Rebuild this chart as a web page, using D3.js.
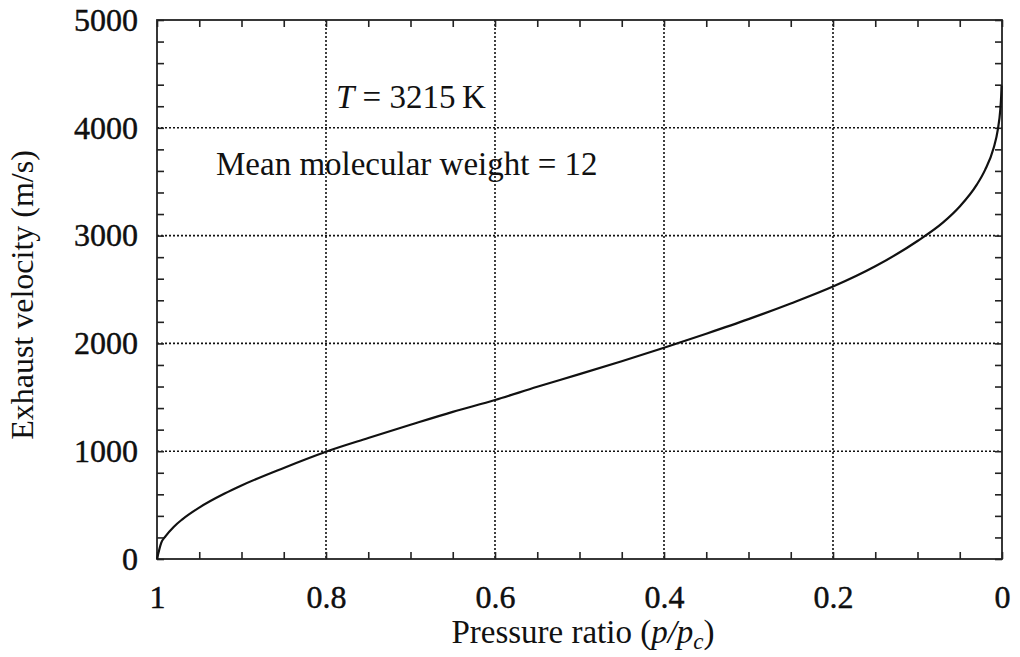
<!DOCTYPE html>
<html lang="en">
<head>
<meta charset="utf-8">
<title>Exhaust velocity vs pressure ratio</title>
<script src="https://cdn.jsdelivr.net/npm/d3@7"></script>
<style>
  body { margin: 0; background: #fff; }
  text { font-family: "Liberation Serif", "DejaVu Serif", serif; fill: #111; }
</style>
</head>
<body>
<script>
var w = 1020;
var h = 657;

// values
var pressureRatio = [1, 0.995, 0.99, 0.98, 0.97, 0.95, 0.92, 0.9, 0.85, 0.8,
                     0.75, 0.7, 0.65, 0.6, 0.55, 0.5, 0.45, 0.4, 0.35, 0.3,
                     0.25, 0.2, 0.15, 0.1, 0.07, 0.05, 0.03, 0.02, 0.01,
                     0.005, 0.002, 0.001, 0.0005];
var velocity = [0, 150, 210, 300, 368, 477, 607, 682, 845, 995,
                1122, 1245, 1365, 1475, 1598, 1715, 1835, 1960, 2090, 2225,
                2370, 2527, 2715, 2950, 3120, 3270, 3470, 3610, 3810,
                3980, 4170, 4290, 4390];

var xTicks = [1, 0.8, 0.6, 0.4, 0.2, 0];
var xTickLabels = ["1", "0.8", "0.6", "0.4", "0.2", "0"];
var yTicks = [0, 1000, 2000, 3000, 4000, 5000];
var yTickLabels = ["0", "1000", "2000", "3000", "4000", "5000"];

var plotL = 157, plotR = 1002, plotT = 20, plotB = 559;

var svg = d3.select("body")
    .append("svg")
    .attr("width", w)
    .attr("height", h);

var x = d3.scaleLinear().domain([1, 0]).range([plotL, plotR]);
var y = d3.scaleLinear().domain([0, 5000]).range([plotB, plotT]);

// dotted grid at the inner major ticks
svg.selectAll("line.gx")
   .data(xTicks.slice(1, -1))
   .enter()
   .append("line")
   .attr("class", "gx")
   .attr("x1", function(d) { return x(d); })
   .attr("x2", function(d) { return x(d); })
   .attr("y1", plotT)
   .attr("y2", plotB)
   .attr("stroke", "#111")
   .attr("stroke-width", 1.6)
   .attr("stroke-dasharray", "2,2");

svg.selectAll("line.gy")
   .data(yTicks.slice(1, -1))
   .enter()
   .append("line")
   .attr("class", "gy")
   .attr("x1", plotL)
   .attr("x2", plotR)
   .attr("y1", function(d) { return y(d); })
   .attr("y2", function(d) { return y(d); })
   .attr("stroke", "#111")
   .attr("stroke-width", 1.6)
   .attr("stroke-dasharray", "2,2");

// minor ticks, pointing inward on all four sides
var xMinor = d3.range(0, 21).map(function(i) { return i * 0.05; });
var yMinor = d3.range(0, 26).map(function(i) { return i * 200; });

function minorTicks(axis, tx, ty) {
    var g = svg.append("g")
        .attr("transform", "translate(" + tx + "," + ty + ")")
        .call(axis.tickSizeInner(-7).tickSizeOuter(0).tickFormat(""));
    g.select(".domain").remove();
    g.selectAll(".tick line").attr("stroke", "#222").attr("stroke-width", 1.6);
}
minorTicks(d3.axisBottom(x).tickValues(xMinor), 0, plotB);
minorTicks(d3.axisTop(x).tickValues(xMinor), 0, plotT);
minorTicks(d3.axisLeft(y).tickValues(yMinor), plotL, 0);
minorTicks(d3.axisRight(y).tickValues(yMinor), plotR, 0);

// frame
svg.append("rect")
   .attr("x", plotL)
   .attr("y", plotT)
   .attr("width", plotR - plotL)
   .attr("height", plotB - plotT)
   .attr("fill", "none")
   .attr("stroke", "#222")
   .attr("stroke-width", 1.8);

// tick labels
var gx = svg.append("g")
    .attr("transform", "translate(0," + plotB + ")")
    .call(d3.axisBottom(x).tickValues(xTicks)
          .tickFormat(function(d, i) { return xTickLabels[i]; })
          .tickSize(0).tickPadding(26));
gx.select(".domain").remove();
gx.selectAll("text").attr("font-size", 32).attr("font-family", "Liberation Serif")
  .attr("fill", "#000").attr("stroke", "#000").attr("stroke-width", 0.4);

var gy = svg.append("g")
    .attr("transform", "translate(" + plotL + ",0)")
    .call(d3.axisLeft(y).tickValues(yTicks)
          .tickFormat(function(d, i) { return yTickLabels[i]; })
          .tickSize(0).tickPadding(19));
gy.select(".domain").remove();
gy.selectAll("text").attr("font-size", 32).attr("font-family", "Liberation Serif")
  .attr("fill", "#000").attr("stroke", "#000").attr("stroke-width", 0.4);

// curve
var line = d3.line()
    .x(function(d) { return x(d[0]); })
    .y(function(d) { return y(d[1]); })
    .curve(d3.curveMonotoneX);

svg.append("path")
   .datum(d3.zip(pressureRatio, velocity))
   .attr("d", line)
   .attr("fill", "none")
   .attr("stroke", "#111")
   .attr("stroke-width", 2.2);

// annotations
var t1 = svg.append("text")
    .attr("x", 336)
    .attr("y", 108)
    .attr("font-size", 33);
t1.append("tspan").attr("font-style", "italic").text("T");
t1.append("tspan").text(" = 3215\u2009K");

svg.append("text")
   .attr("x", 216)
   .attr("y", 175)
   .attr("font-size", 33)
   .text("Mean molecular weight = 12");

// axis titles
var xt = svg.append("text")
    .attr("x", 583)
    .attr("y", 643)
    .attr("text-anchor", "middle")
    .attr("font-size", 33);
xt.append("tspan").text("Pressure ratio (");
xt.append("tspan").attr("font-style", "italic").text("p/p");
xt.append("tspan").attr("font-style", "italic").attr("font-size", 23).attr("dy", 6).text("c");
xt.append("tspan").attr("dy", -6).text(")");

svg.append("text")
   .attr("transform", "translate(33,295) rotate(-90)")
   .attr("text-anchor", "middle")
   .attr("font-size", 32)
   .text("Exhaust velocity (m/s)");
</script>
</body>
</html>
